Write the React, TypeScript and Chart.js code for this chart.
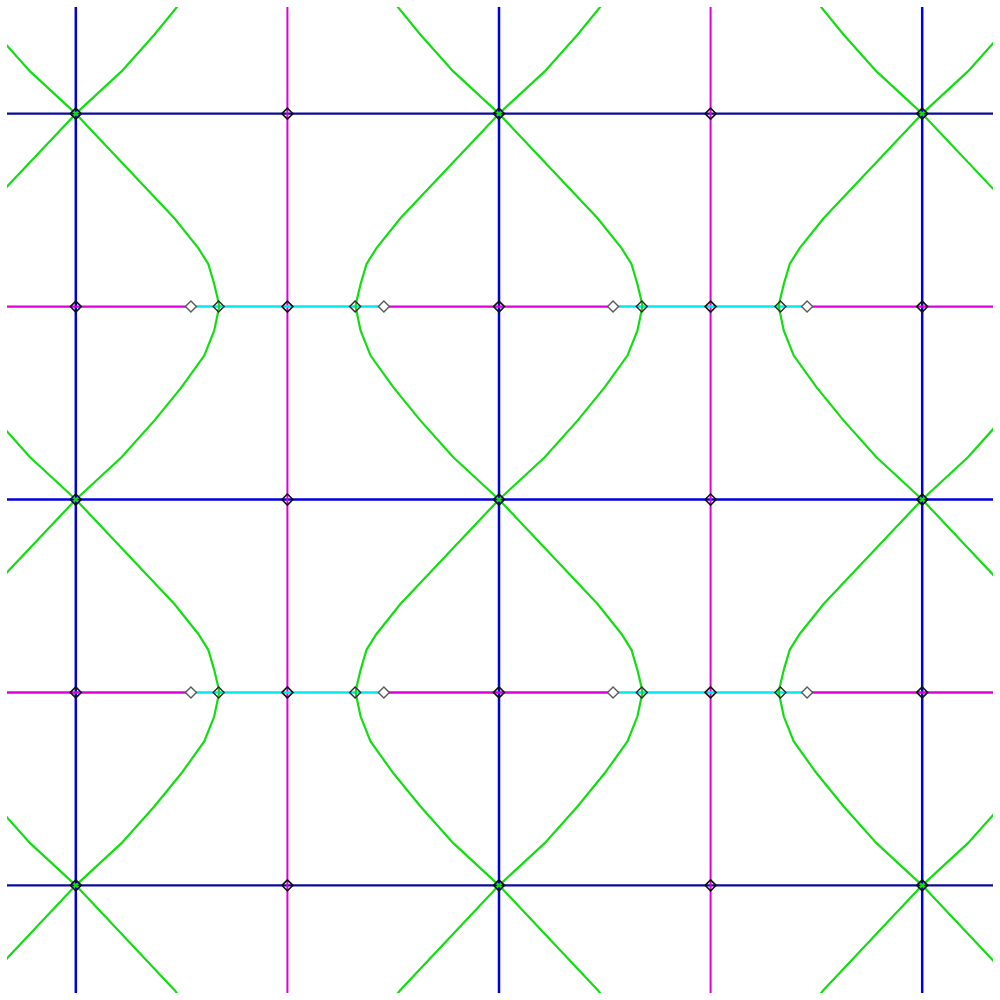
import React, { useEffect, useRef } from "react";
import { Chart, registerables } from "chart.js";

Chart.register(...registerables);

// Nullcline grid positions
const blueX = [-2, 0, 2];
const blueYDark = [-2, 2];
const blueYMid = [0];
const magentaX = [-1, 1];
const magentaY = [-1, 1];

// Separatrix lobe profile: drop below upper saddle, outward reach
const lobeDrop = [0, 0.542, 0.697, 0.779, 0.883, 0.97, 1.0, 1.125, 1.254, 1.419, 1.59, 1.781, 2.0];
const lobeReach = [0, 0.466, 0.579, 0.626, 0.654, 0.673, 0.678, 0.654, 0.607, 0.499, 0.372, 0.216, 0];
const saddleCols = [-2, 0, 2];
const lobeTops = [4, 2, 0, -2];

// Segments on the magenta horizontal lines that are cyan
const cyanStart = [-1.456, 0.539];
const cyanEnd = [-0.544, 1.456];

// Markers
const equilX = [-2, -1, 0, 1, 2];
const equilY = [-2, -1, 0, 1, 2];
const tipX = [-1.325, -0.68, 0.675, 1.33];
const sideX = [-1.456, -0.544, 0.539, 1.456];

const X_MIN = -2.3247;
const X_MAX = 2.3341;
const Y_MIN = -2.5574;
const Y_MAX = 2.5523;

const BLUE = "#0000dd";
const BLUE_DARK = "#0c0c9c";
const MAGENTA = "#dd00dd";
const CYAN = "#00e8f0";
const GREEN = "#11dd11";

export default function App() {
  const ref = useRef<HTMLCanvasElement | null>(null);

  useEffect(() => {
    if (!ref.current) return;
    const datasets: any[] = [];
    const line = (pts: { x: number; y: number }[], color: string, width: number, order: number) => ({
      data: pts,
      showLine: true,
      borderColor: color,
      backgroundColor: color,
      borderWidth: width,
      pointRadius: 0,
      pointHoverRadius: 0,
      order,
    });

    // Side markers (white filled), top-most
    magentaY.forEach((y) => {
      datasets.push({
        data: sideX.map((x) => ({ x, y })),
        showLine: false,
        pointStyle: "rectRot",
        pointRadius: 5.5,
        pointBorderColor: "#5a5a5a",
        pointBackgroundColor: "#ffffff",
        pointBorderWidth: 1.4,
        order: 0,
      });
      datasets.push({
        data: tipX.map((x) => ({ x, y })),
        showLine: false,
        pointStyle: "rectRot",
        pointRadius: 5.5,
        pointBorderColor: "#2a2a2a",
        pointBackgroundColor: "rgba(0,0,0,0)",
        pointBorderWidth: 1.4,
        order: 1,
      });
    });
    equilY.forEach((y) => {
      datasets.push({
        data: equilX.map((x) => ({ x, y })),
        showLine: false,
        pointStyle: "rectRot",
        pointRadius: 5.5,
        pointBorderColor: "#111111",
        pointBackgroundColor: "rgba(0,0,0,0)",
        pointBorderWidth: 1.6,
        order: 1,
      });
    });

    // Green separatrices
    saddleCols.forEach((c) => {
      [-1, 1].forEach((s) => {
        lobeTops.forEach((top) => {
          datasets.push(
            line(
              lobeDrop.map((d, i) => ({ x: c + s * lobeReach[i], y: top - d })),
              GREEN,
              2.2,
              2
            )
          );
        });
      });
    });

    // Cyan segments
    magentaY.forEach((y) => {
      cyanStart.forEach((x0, i) => {
        datasets.push(line([{ x: x0, y }, { x: cyanEnd[i], y }], CYAN, 2.5, 3));
      });
    });

    // Magenta horizontal (outside cyan)
    magentaY.forEach((y) => {
      const stops = [X_MIN - 1, ...cyanStart.flatMap((s, i) => [s, cyanEnd[i]]), X_MAX + 1];
      for (let i = 0; i < stops.length; i += 2) {
        datasets.push(line([{ x: stops[i], y }, { x: stops[i + 1], y }], MAGENTA, 2.4, 4));
      }
    });
    // Magenta vertical
    magentaX.forEach((x) => {
      datasets.push(line([{ x, y: Y_MIN - 1 }, { x, y: Y_MAX + 1 }], MAGENTA, 2, 4));
    });

    // Blue lines
    blueX.forEach((x) => {
      datasets.push(line([{ x, y: Y_MIN - 1 }, { x, y: Y_MAX + 1 }], BLUE, 2.5, 5));
    });
    blueYMid.forEach((y) => {
      datasets.push(line([{ x: X_MIN - 1, y }, { x: X_MAX + 1, y }], BLUE, 2.5, 5));
    });
    blueYDark.forEach((y) => {
      datasets.push(line([{ x: X_MIN - 1, y }, { x: X_MAX + 1, y }], BLUE_DARK, 2.2, 5));
    });

    const chart = new Chart(ref.current, {
      type: "scatter",
      data: { datasets },
      options: {
        animation: false,
        responsive: false,
        events: [],
        layout: { padding: 5 },
        plugins: { legend: { display: false }, tooltip: { enabled: false } },
        scales: {
          x: { type: "linear", min: X_MIN, max: X_MAX, display: false },
          y: { type: "linear", min: Y_MIN, max: Y_MAX, display: false },
        },
      },
    });
    return () => chart.destroy();
  }, []);

  return (
    <div style={{ position: "absolute", left: 0, top: 0, width: 1000, height: 1000, background: "#fff" }}>
      <canvas ref={ref} width={1000} height={1000} style={{ display: "block" }} />
    </div>
  );
}
